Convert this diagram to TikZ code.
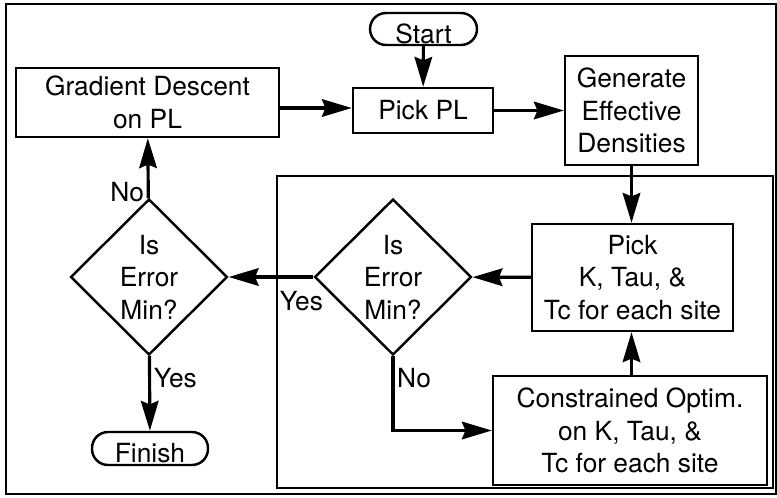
\documentclass[tikz,border=0pt]{standalone}
\usepackage{fontspec}
\setmainfont{TeX Gyre Heros}
\usetikzlibrary{shapes.geometric, arrows.meta, positioning}

% terminal labels sit low in their capsule
\newcommand{\lowtext}[1]{\raisebox{-8pt}[0pt][0pt]{#1}}

\begin{document}
\begin{tikzpicture}[
    x=0.02cm, y=-0.02cm,
    box/.style={rectangle, draw, line width=1.4pt, align=center, inner sep=0pt},
    term/.style={rectangle, draw, rounded corners=0.32cm, line width=1.4pt, inner sep=0pt},
    decision/.style={diamond, draw, line width=1.4pt, align=center, inner sep=0pt, aspect=1, minimum width=3.14cm, minimum height=3.12cm},
    arrow/.style={-{Stealth[length=17pt, width=10pt, inset=2pt]}, line width=1.8pt},
    lbl/.style={inner sep=1.5pt},
    font=\fontsize{15}{18.5}\selectfont
]
    \useasboundingbox (0,0) rectangle (777,497);

    % Frames
    \draw[line width=1.4pt] (6,4) rectangle (776,494);
    \draw[line width=1.4pt] (277,176) rectangle (773,488);

    % Nodes
    \node[term, minimum width=2.14cm, minimum height=0.64cm] (start) at (423.5,29) {\lowtext{Start}};
    \node[box, minimum width=5.26cm, minimum height=1.38cm] (grad) at (147.5,102.5) {Gradient Descent\\on PL};
    \node[box, minimum width=2.8cm, minimum height=0.9cm] (pickpl) at (423,110.5) {Pick PL};
    \node[box, minimum width=2.66cm, minimum height=2.18cm] (gen) at (631.5,110.5) {Generate\\Effective\\Densities};
    \node[box, minimum width=4.02cm, minimum height=2.14cm] (pickk) at (632.5,277.5) {Pick\\K, Tau, \&\\Tc for each site};
    \node[box, minimum width=5.48cm, minimum height=2.18cm] (constr) at (630,430.5) {Constrained Optim.\\on K, Tau, \&\\Tc for each site};
    \node[decision] (errin) at (393,277) {Is\\Error\\Min?};
    \node[decision] (errout) at (149,277) {Is\\Error\\Min?};
    \node[term, minimum width=2.32cm, minimum height=0.66cm] (finish) at (150,448.5) {\lowtext{Finish}};

    % Arrows
    \draw[arrow] (start) -- (pickpl);
    \draw[arrow] (grad.east |- 0,108) -- (pickpl.west |- 0,108);
    \draw[arrow] (pickpl) -- (gen);
    \draw[arrow] (gen) -- (gen |- pickk.north);
    \draw[arrow] (pickk) -- (errin);
    \draw[arrow] (errin) -- node[lbl, below=6pt, pos=0.14] {Yes} (errout);
    \draw[arrow] (errin.south) |- node[lbl, right, pos=0.15] {No} (constr.west);
    \draw[arrow] (constr.north -| gen) -- (pickk.south -| gen);
    \draw[arrow] (errout) -- node[lbl, left, pos=0.1] {No} (grad);
    \draw[arrow] (errout) -- node[lbl, right, pos=0.3] {Yes} (finish);
\end{tikzpicture}
\end{document}
